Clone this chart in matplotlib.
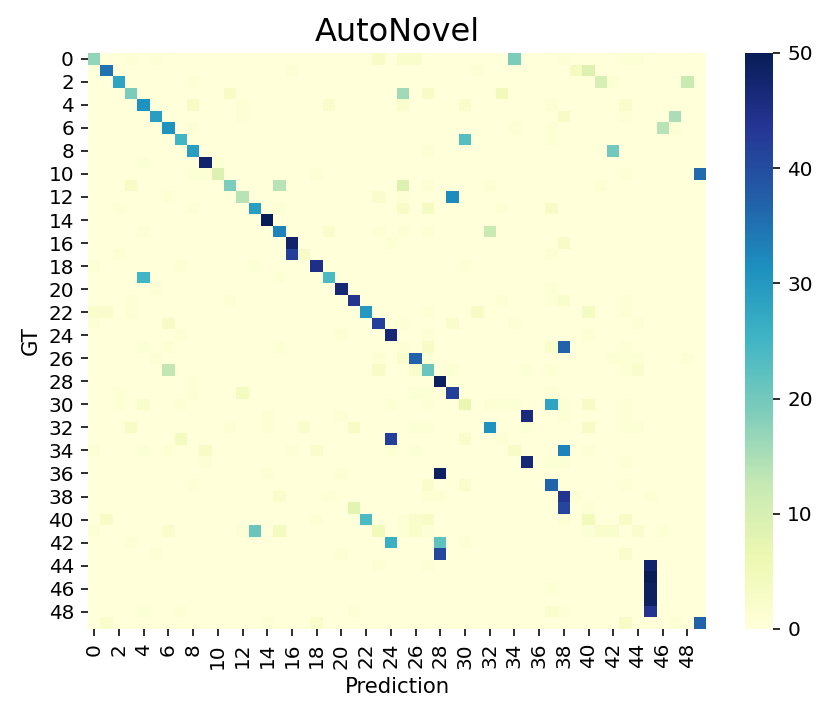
import numpy as np
import matplotlib
matplotlib.use("Agg")
import matplotlib.pyplot as plt
import seaborn as sns

title = "AutoNovel"
x_label = "Prediction"
y_label = "GT"
n_classes = 50
class_labels = [str(i) for i in range(n_classes)]
vmin, vmax = 0, 50
cbar_ticks = [0, 10, 20, 30, 40, 50]

# For each GT row: predicted columns with non-zero counts, and the counts
pred_cols_by_gt = [
    [0, 3, 5, 23, 25, 26, 34, 38, 43, 44],
    [1, 16, 31, 39, 40],
    [2, 8, 41, 42, 48],
    [3, 11, 25, 27, 33],
    [4, 8, 12, 19, 25, 30, 37, 43],
    [5, 12, 38, 43, 47],
    [6, 8, 34, 37, 46, 47],
    [7, 30, 37],
    [8, 27, 42],
    [4, 9, 10],
    [8, 9, 10, 18, 43, 49],
    [3, 11, 15, 25, 27, 32, 41],
    [6, 12, 23, 25, 29],
    [2, 8, 13, 15, 25, 27, 33, 37],
    [14],
    [4, 15, 19, 23, 25, 27, 32],
    [16, 24, 38],
    [2, 16, 17, 37],
    [0, 7, 13, 18, 30],
    [4, 15, 19],
    [5, 20, 37],
    [3, 11, 21, 33, 37, 38, 43],
    [0, 1, 3, 22, 27, 31, 40, 43],
    [0, 6, 23, 25, 29, 34, 44],
    [7, 20, 24, 27, 40],
    [4, 6, 15, 25, 27, 37, 38, 43],
    [5, 23, 25, 26, 27, 42, 43, 44, 48],
    [6, 23, 26, 27, 29, 35, 37, 43, 44],
    [8, 28],
    [2, 8, 12, 26, 27, 29, 37],
    [2, 4, 7, 24, 27, 30, 32, 33, 34, 37, 38, 40, 43],
    [14, 20, 35, 38, 43],
    [3, 11, 14, 17, 21, 26, 27, 32, 35, 40, 43, 44],
    [7, 24, 30, 33],
    [0, 4, 6, 9, 16, 18, 24, 26, 34, 38, 40],
    [9, 35, 37, 38, 43],
    [14, 20, 28],
    [8, 27, 30, 37, 43],
    [15, 19, 27, 28, 38, 39, 45],
    [21, 38, 40],
    [1, 18, 22, 25, 26, 27, 38, 40, 43],
    [0, 6, 12, 13, 15, 23, 25, 26, 27, 40, 41, 42, 44, 46],
    [3, 24, 28, 30],
    [5, 20, 28, 43],
    [23, 27, 45],
    [45],
    [37, 45],
    [45],
    [4, 7, 21, 37, 38, 45],
    [1, 14, 18, 43, 47, 49],
]
counts_by_gt = [
    [17, 1, 1, 3, 2, 2, 19, 1, 1, 1],
    [35, 1, 1, 4, 9],
    [28, 1, 10, 1, 12],
    [19, 3, 16, 3, 5],
    [31, 3, 1, 2, 2, 2, 1, 2],
    [29, 1, 3, 1, 15],
    [31, 1, 1, 1, 14, 1],
    [25, 23, 1],
    [29, 1, 20],
    [1, 48, 1],
    [1, 1, 9, 1, 1, 36],
    [3, 19, 14, 9, 1, 1, 1],
    [1, 14, 2, 1, 32],
    [1, 1, 29, 1, 3, 4, 1, 3],
    [50],
    [1, 33, 2, 1, 1, 1, 12],
    [48, 1, 3],
    [1, 42, 3, 1],
    [1, 1, 1, 45, 1],
    [25, 1, 24],
    [1, 47, 1],
    [1, 1, 44, 1, 1, 2, 1],
    [2, 2, 1, 30, 1, 3, 4, 1],
    [1, 3, 42, 1, 2, 1, 1],
    [1, 1, 47, 1, 1],
    [1, 1, 1, 1, 3, 2, 37, 1],
    [1, 1, 2, 37, 1, 1, 1, 1, 1],
    [13, 3, 2, 21, 1, 1, 1, 1, 2],
    [1, 49],
    [1, 1, 4, 1, 1, 42, 1],
    [1, 2, 1, 1, 1, 7, 1, 1, 1, 28, 1, 3, 1],
    [1, 1, 46, 1, 1],
    [3, 1, 1, 2, 3, 1, 1, 31, 1, 3, 1, 1],
    [4, 42, 2, 1],
    [1, 1, 1, 3, 1, 2, 1, 1, 3, 33, 1],
    [1, 47, 1, 1, 1],
    [1, 1, 49],
    [1, 2, 2, 37, 1],
    [2, 1, 1, 1, 44, 1, 1],
    [8, 41, 1],
    [3, 1, 24, 1, 2, 3, 1, 5, 3],
    [1, 2, 1, 21, 4, 5, 1, 2, 1, 1, 2, 2, 2, 1],
    [1, 26, 22, 1],
    [1, 1, 41, 2],
    [1, 1, 48],
    [50],
    [1, 49],
    [49],
    [1, 1, 1, 2, 1, 44],
    [2, 1, 2, 3, 1, 37],
]

cm = np.zeros((n_classes, n_classes))
for r, (cols, vals) in enumerate(zip(pred_cols_by_gt, counts_by_gt)):
    for c, v in zip(cols, vals):
        cm[r, c] = v

W, H, DPI = 831, 717, 144
fig = plt.figure(figsize=(W / DPI, H / DPI), dpi=DPI)
ax = fig.add_axes([88 / W, 1 - 629 / H, (706 - 88) / W, (629 - 53) / H])
cax = fig.add_axes([744.5 / W, 1 - 629 / H, 28.8 / W, (629 - 53) / H])

sns.heatmap(cm, ax=ax, cbar_ax=cax, cmap="YlGnBu", vmin=vmin, vmax=vmax,
            xticklabels=False, yticklabels=False)

tick_pos = np.arange(0, n_classes, 2)
ax.set_xticks(tick_pos + 0.5)
ax.set_xticklabels([class_labels[i] for i in tick_pos], rotation=90, fontsize=10)
ax.set_yticks(tick_pos + 0.5)
ax.set_yticklabels([class_labels[i] for i in tick_pos], rotation=0, fontsize=10)
ax.tick_params(length=3.5, width=0.8)
ax.set_xlabel(x_label, fontsize=10.6)
ax.set_ylabel(y_label, fontsize=10.6)
ax.set_title(title, fontsize=16)

cax.set_yticks(cbar_ticks)
cax.tick_params(labelsize=10, length=3.5, width=0.8)
for s in cax.spines.values():
    s.set_visible(False)

fig.savefig("out.png", dpi=DPI)
